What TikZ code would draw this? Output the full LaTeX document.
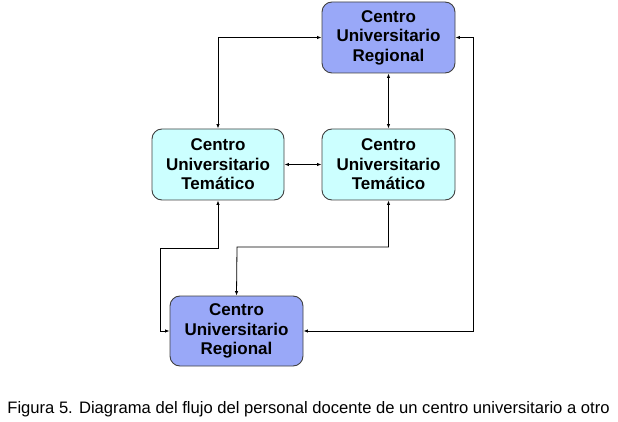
\documentclass[tikz,border=0pt]{standalone}
\usepackage{fontspec}
\setmainfont{Liberation Sans}
\usetikzlibrary{arrows.meta}
\definecolor{regfill}{HTML}{99A8F8}
\definecolor{temfill}{HTML}{CCFFFF}
\definecolor{boxline}{HTML}{404040}
\tikzset{
  cbox/.style={draw=boxline, line width=0.9pt, rounded corners=10pt, align=center,
    font=\fontsize{17}{19.5}\selectfont\bfseries, inner sep=0pt},
  reg/.style={cbox, fill=regfill},
  tem/.style={cbox, fill=temfill},
  link/.style={line width=0.8pt, {Latex[length=4.5pt,width=3.5pt]}-{Latex[length=4.5pt,width=3.5pt]}},
}
\begin{document}
\begin{tikzpicture}[x=1pt,y=-1pt]
\useasboundingbox (0,0) rectangle (618,422);
\node[reg, minimum width=133pt, minimum height=71pt] (top) at (388.5,37.5) {Centro\\Universitario\\Regional};
\node[tem, minimum width=132pt, minimum height=71pt] (lm) at (218,164.5) {Centro\\Universitario\\Temático};
\node[tem, minimum width=133pt, minimum height=71pt] (rm) at (388.5,164.5) {Centro\\Universitario\\Temático};
\node[reg, minimum width=133pt, minimum height=70pt] (bot) at (236.5,331) {Centro\\Universitario\\Regional};
\coordinate (r) at (473,38);
\coordinate (c1) at (160,248);
\coordinate (c2) at (237,247);
\draw[link] (top.west) -| (lm.north);
\draw[link] (top.south) -- (rm.north);
\draw[link] (lm.east) -- (rm.west);
\draw[link] (top.east) -- (top.east -| r) |- (bot.east);
\draw[link] (lm.south) |- (c1) |- (bot.west);
\draw[link] (rm.south) |- (c2) -- (bot.north);
\node[font=\fontsize{16.6}{19}\selectfont, anchor=base, inner sep=0pt] (cap) at (308.5,413) {Figura 5. Diagrama del flujo del personal docente de un centro universitario a otro};
\end{tikzpicture}
\end{document}
